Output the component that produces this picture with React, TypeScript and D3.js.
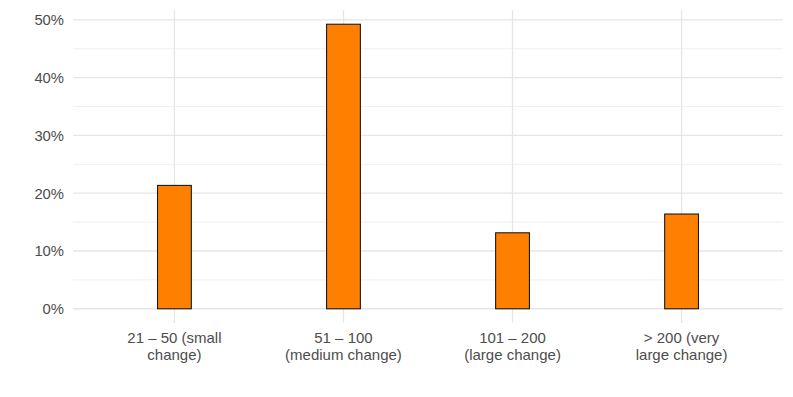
import React, { useEffect, useRef } from 'react';
import * as d3 from 'd3';

const categories = ['21 – 50 (small change)', '51 – 100 (medium change)', '101 – 200 (large change)', '> 200 (very large change)'];
const labelLines = [
  ['21 – 50 (small', 'change)'],
  ['51 – 100', '(medium change)'],
  ['101 – 200', '(large change)'],
  ['> 200 (very', 'large change)'],
];
const shares = [0.2135, 0.4925, 0.1315, 0.164];
const yTicks = [0, 0.1, 0.2, 0.3, 0.4, 0.5];
const yMinor = [0.05, 0.15, 0.25, 0.35, 0.45];

export default function App() {
  const svgRef = useRef<SVGSVGElement>(null);

  useEffect(() => {
    const width = 793;
    const height = 397;
    const margin = { top: 10, right: 10, bottom: 74, left: 73 };

    const svg = d3.select(svgRef.current).attr('width', width).attr('height', height);
    svg.selectAll('*').remove();

    const maxVal = d3.max(shares) as number;
    const pad = maxVal * 0.05;

    const x = d3.scalePoint<string>()
      .domain(categories)
      .range([margin.left, width - margin.right])
      .padding(0.6);
    const step = x.step();

    const y = d3.scaleLinear()
      .domain([-pad, maxVal + pad])
      .range([height - margin.bottom, margin.top]);

    const grid = svg.append('g');
    // minor horizontal gridlines
    grid.selectAll('line.minor')
      .data(yMinor)
      .join('line')
      .attr('x1', margin.left).attr('x2', width - margin.right)
      .attr('y1', d => y(d)).attr('y2', d => y(d))
      .attr('stroke', '#e8e8e8').attr('stroke-width', 0.7);
    // major horizontal gridlines
    grid.selectAll('line.major')
      .data(yTicks)
      .join('line')
      .attr('x1', margin.left).attr('x2', width - margin.right)
      .attr('y1', d => y(d)).attr('y2', d => y(d))
      .attr('stroke', '#e6e6e6').attr('stroke-width', 1.3);
    // vertical gridlines
    grid.selectAll('line.vx')
      .data(categories)
      .join('line')
      .attr('x1', d => x(d) as number).attr('x2', d => x(d) as number)
      .attr('y1', margin.top).attr('y2', height - margin.bottom)
      .attr('stroke', '#e6e6e6').attr('stroke-width', 1.3);

    // bars
    const barW = step * 0.2;
    svg.append('g')
      .selectAll('rect')
      .data(shares)
      .join('rect')
      .attr('x', (d, i) => (x(categories[i]) as number) - barW / 2)
      .attr('width', barW)
      .attr('y', d => y(d))
      .attr('height', d => y(0) - y(d))
      .attr('fill', '#ff7f00')
      .attr('stroke', '#1a1a1a')
      .attr('stroke-width', 1.1);

    // y labels
    svg.append('g')
      .selectAll('text')
      .data(yTicks)
      .join('text')
      .attr('x', margin.left - 9)
      .attr('y', d => y(d))
      .attr('dy', '0.36em')
      .attr('text-anchor', 'end')
      .attr('font-family', 'Liberation Sans, Arial, sans-serif')
      .attr('font-size', 14.8)
      .attr('fill', '#4d4d4d')
      .text(d => d3.format('.0%')(d));

    // x labels
    const xl = svg.append('g')
      .selectAll('text')
      .data(categories)
      .join('text')
      .attr('x', d => x(d) as number)
      .attr('y', height - margin.bottom + 20)
      .attr('text-anchor', 'middle')
      .attr('font-family', 'Liberation Sans, Arial, sans-serif')
      .attr('font-size', 15)
      .attr('fill', '#4d4d4d');
    xl.each(function (d, i) {
      const t = d3.select(this);
      labelLines[i].forEach((line, j) => {
        t.append('tspan')
          .attr('x', x(d) as number)
          .attr('dy', j === 0 ? 0 : 16.5)
          .text(line);
      });
    });
  }, []);

  return (
    <svg ref={svgRef} style={{ position: 'absolute', left: 0, top: 0 }}></svg>
  );
}
